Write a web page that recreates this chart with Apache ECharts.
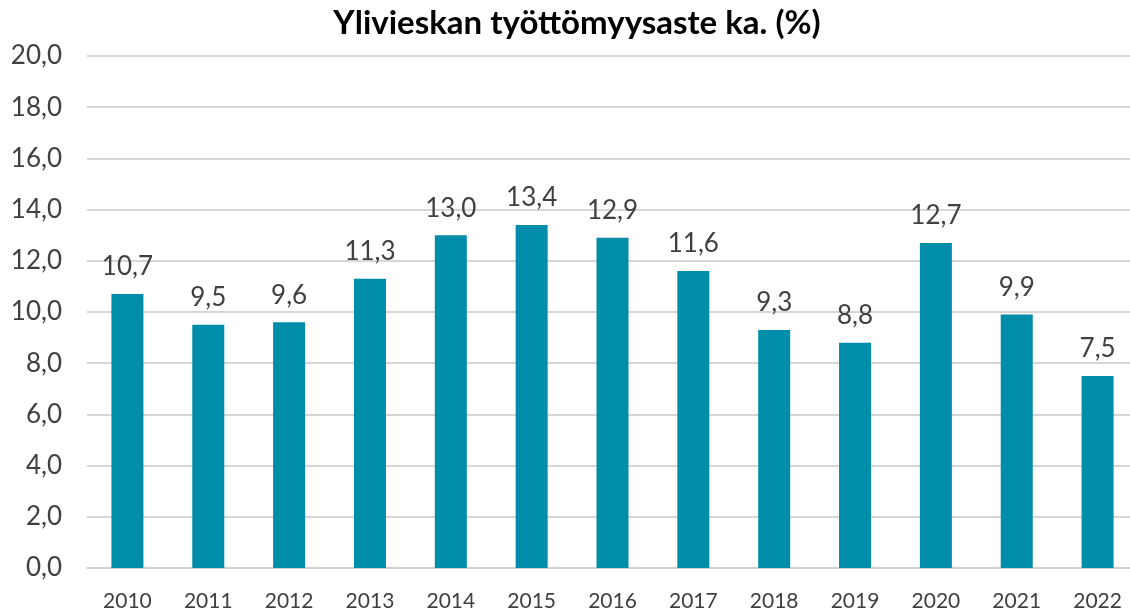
<!DOCTYPE html>
<html>
<head>
<meta charset="utf-8">
<script src="https://cdn.jsdelivr.net/npm/echarts@6/dist/echarts.min.js"></script>
<style>
  html, body { margin: 0; padding: 0; overflow: hidden; background: #fff; }
  #chart { width: 1138px; height: 614px; }
</style>
</head>
<body>
<div id="chart"></div>
<script>
const BAR = "#008DAA";
const TEXT = "#404040";

const years = ["2010", "2011", "2012", "2013", "2014", "2015", "2016",
  "2017", "2018", "2019", "2020", "2021", "2022"];
const rates = [10.7, 9.5, 9.6, 11.3, 13.0, 13.4, 12.9, 11.6, 9.3, 8.8, 12.7, 9.9, 7.5];

const fmt = (v) => Number(v).toFixed(1).replace(".", ",");

const chart = echarts.init(document.getElementById("chart"), null, { renderer: "canvas" });

chart.setOption({
  animation: false,
  textStyle: { fontFamily: "Lato" },
  title: {
    text: "Ylivieskan työttömyysaste ka. (%)",
    left: 572,
    top: 2,
    textAlign: "center",
    textStyle: { fontFamily: "Lato", fontWeight: "bold", fontSize: 33, color: "#000" },
  },
  grid: { left: 87, right: 0, top: 56, bottom: 46 },
  xAxis: {
    type: "category",
    data: years,
    axisTick: { show: false },
    axisLine: { lineStyle: { color: "#d0d0d0", width: 2 } },
    axisLabel: { color: TEXT, fontSize: 21, margin: 23 },
  },
  yAxis: {
    type: "value",
    min: 0,
    max: 20,
    interval: 2,
    axisLine: { show: false },
    axisTick: { show: false },
    axisLabel: { color: TEXT, fontSize: 26, margin: 25, formatter: fmt },
    splitLine: { lineStyle: { color: "#d6d6d6", width: 2 } },
  },
  series: [
    {
      type: "bar",
      data: rates,
      barWidth: 32,
      itemStyle: { color: BAR },
      label: {
        show: true,
        position: "top",
        distance: 14,
        color: TEXT,
        fontSize: 26,
        formatter: (p) => fmt(p.value),
      },
    },
  ],
});
</script>
</body>
</html>
